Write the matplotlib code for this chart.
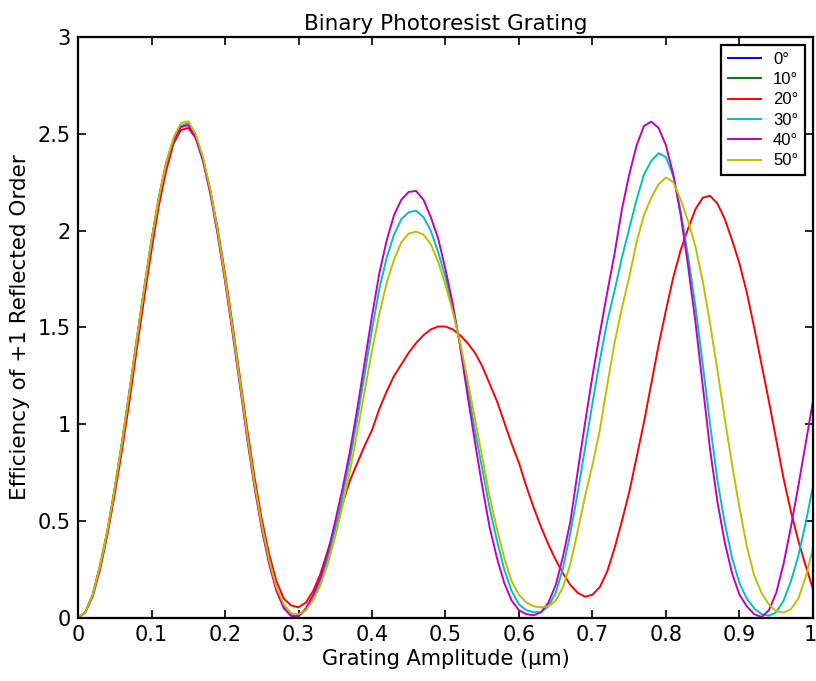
import numpy as np
import matplotlib
matplotlib.use("Agg")
import matplotlib.pyplot as plt
import matplotlib.transforms as mtransforms

plt.rcParams['font.family'] = ['DejaVu Sans']

# Grating amplitude in micrometres (0.01 um steps)
amplitude = np.round(np.arange(0, 101) * 0.01, 2)

# Efficiency of the +1 reflected order for each angle of incidence
eff_0deg = np.zeros(101)
eff_10deg = np.zeros(101)

eff_20deg = [
    0.00, 0.03, 0.11, 0.25, 0.43, 0.64, 0.87, 1.12, 1.39, 1.65,
    1.90, 2.13, 2.31, 2.45, 2.52, 2.53, 2.48, 2.37, 2.21, 2.01,
    1.78, 1.52, 1.25, 0.98, 0.73, 0.51, 0.33, 0.19, 0.10, 0.065,
    0.055, 0.08, 0.14, 0.23, 0.35, 0.47, 0.59, 0.71, 0.80, 0.89,
    0.97, 1.08, 1.17, 1.25, 1.31, 1.37, 1.42, 1.46, 1.49, 1.505,
    1.505, 1.49, 1.46, 1.42, 1.37, 1.30, 1.21, 1.12, 1.01, 0.90,
    0.80, 0.68, 0.57, 0.47, 0.38, 0.30, 0.23, 0.17, 0.13, 0.11,
    0.12, 0.16, 0.24, 0.36, 0.50, 0.65, 0.83, 1.01, 1.21, 1.41,
    1.59, 1.76, 1.90, 2.01, 2.11, 2.17, 2.18, 2.14, 2.06, 1.95,
    1.83, 1.68, 1.50, 1.31, 1.12, 0.92, 0.72, 0.55, 0.40, 0.27,
    0.15,
]

eff_30deg = [
    0.00, 0.03, 0.12, 0.27, 0.45, 0.67, 0.91, 1.17, 1.44, 1.70,
    1.95, 2.17, 2.35, 2.47, 2.54, 2.555, 2.49, 2.37, 2.20, 1.99,
    1.75, 1.49, 1.22, 0.94, 0.69, 0.47, 0.29, 0.15, 0.06, 0.015,
    0.01, 0.04, 0.10, 0.19, 0.31, 0.46, 0.63, 0.82, 1.03, 1.26,
    1.49, 1.70, 1.86, 1.98, 2.06, 2.095, 2.103, 2.07, 2.00, 1.89,
    1.76, 1.60, 1.41, 1.19, 0.97, 0.77, 0.57, 0.40, 0.25, 0.14,
    0.07, 0.04, 0.03, 0.03, 0.06, 0.13, 0.26, 0.44, 0.65, 0.88,
    1.11, 1.33, 1.53, 1.69, 1.86, 2.01, 2.16, 2.29, 2.36, 2.40,
    2.38, 2.28, 2.10, 1.87, 1.61, 1.31, 1.00, 0.71, 0.49, 0.31,
    0.18, 0.10, 0.05, 0.02, 0.012, 0.03, 0.09, 0.19, 0.32, 0.49,
    0.68,
]

eff_40deg = [
    0.00, 0.03, 0.12, 0.27, 0.45, 0.67, 0.91, 1.17, 1.44, 1.70,
    1.95, 2.17, 2.35, 2.47, 2.535, 2.545, 2.48, 2.36, 2.19, 1.98,
    1.74, 1.48, 1.21, 0.93, 0.68, 0.46, 0.28, 0.14, 0.05, 0.01,
    0.01, 0.05, 0.12, 0.21, 0.34, 0.50, 0.67, 0.86, 1.08, 1.32,
    1.56, 1.78, 1.95, 2.08, 2.16, 2.20, 2.205, 2.16, 2.07, 1.96,
    1.80, 1.62, 1.40, 1.15, 0.91, 0.68, 0.47, 0.31, 0.18, 0.09,
    0.04, 0.02, 0.014, 0.03, 0.08, 0.17, 0.32, 0.50, 0.76, 1.01,
    1.25, 1.47, 1.68, 1.88, 2.11, 2.29, 2.44, 2.54, 2.563, 2.53,
    2.44, 2.29, 2.08, 1.82, 1.53, 1.20, 0.87, 0.60, 0.39, 0.23,
    0.12, 0.06, 0.02, 0.005, 0.04, 0.13, 0.28, 0.47, 0.68, 0.90,
    1.12,
]

eff_50deg = [
    0.00, 0.03, 0.12, 0.27, 0.45, 0.67, 0.91, 1.17, 1.44, 1.70,
    1.95, 2.17, 2.35, 2.48, 2.555, 2.565, 2.50, 2.38, 2.21, 2.00,
    1.76, 1.50, 1.23, 0.95, 0.70, 0.48, 0.30, 0.16, 0.07, 0.025,
    0.02, 0.04, 0.09, 0.17, 0.28, 0.42, 0.58, 0.76, 0.96, 1.17,
    1.38, 1.57, 1.73, 1.85, 1.94, 1.985, 1.995, 1.98, 1.93, 1.84,
    1.72, 1.58, 1.42, 1.23, 1.03, 0.83, 0.63, 0.46, 0.31, 0.19,
    0.12, 0.08, 0.06, 0.055, 0.06, 0.09, 0.16, 0.28, 0.45, 0.63,
    0.79, 0.97, 1.20, 1.42, 1.60, 1.76, 1.94, 2.08, 2.17, 2.24,
    2.275, 2.25, 2.16, 2.05, 1.92, 1.74, 1.52, 1.28, 1.03, 0.79,
    0.57, 0.37, 0.22, 0.13, 0.07, 0.035, 0.028, 0.045, 0.10, 0.21,
    0.36,
]

angle_labels = ['0°', '10°', '20°', '30°', '40°', '50°']
series = [eff_0deg, eff_10deg, eff_20deg, eff_30deg, eff_40deg, eff_50deg]
colors = ['#0000ff', '#008000', '#ff0000', '#00bfbf', '#bf00bf', '#bfbf00']

x_ticks = [0, 0.1, 0.2, 0.3, 0.4, 0.5, 0.6, 0.7, 0.8, 0.9, 1]
x_tick_labels = ['0', '0.1', '0.2', '0.3', '0.4', '0.5', '0.6', '0.7', '0.8', '0.9', '1']
y_ticks = [0, 0.5, 1, 1.5, 2, 2.5, 3]
y_tick_labels = ['0', '0.5', '1', '1.5', '2', '2.5', '3']

fig = plt.figure(figsize=(8.16, 6.81), dpi=100)
ax = fig.add_axes([0.0956, 0.0925, 0.9007, 0.8532])

for vals, lab, col in zip(series, angle_labels, colors):
    ax.plot(amplitude, vals, color=col, linewidth=1.4, label=lab)

ax.set_xlim(0, 1)
ax.set_ylim(0, 3)
ax.set_xticks(x_ticks)
ax.set_xticklabels(x_tick_labels)
ax.set_yticks(y_ticks)
ax.set_yticklabels(y_tick_labels)
ax.tick_params(direction='in', length=6, width=1.2, top=True, right=True,
               labelsize=15, pad=5, colors='black')
for sp in ax.spines.values():
    sp.set_linewidth(1.6)
    sp.set_color('black')

# keep the last x tick label inside the figure edge
last_label = ax.get_xticklabels()[-1]
last_label.set_transform(last_label.get_transform() +
                         mtransforms.ScaledTranslation(-3 / 100, 0, fig.dpi_scale_trans))

ax.set_title('Binary Photoresist Grating', fontsize=15.5, pad=5)
ax.set_xlabel('Grating Amplitude (μm)', fontsize=15, labelpad=3)
ax.set_ylabel('Efficiency of +1 Reflected Order', fontsize=15.5, labelpad=6)

leg = ax.legend(loc='upper right', bbox_to_anchor=(0.989, 0.986), borderaxespad=0,
                prop={'family': 'Liberation Sans', 'size': 12},
                handlelength=2.0, labelspacing=0.32, handletextpad=0.7,
                borderpad=0.4, fancybox=False, framealpha=1)
leg.get_frame().set_edgecolor('black')
leg.get_frame().set_linewidth(1.6)

fig.savefig('out.png', dpi=100)
